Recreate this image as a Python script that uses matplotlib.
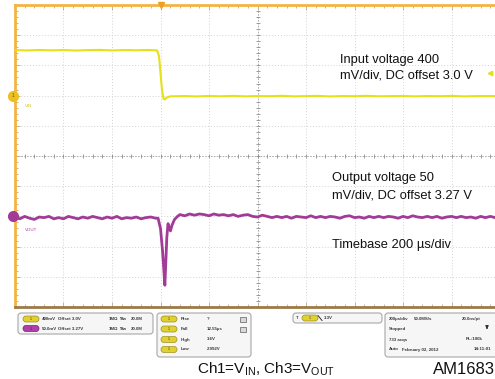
import numpy as np
import matplotlib
matplotlib.use("Agg")
import matplotlib.pyplot as plt
from matplotlib.patches import FancyBboxPatch, Rectangle

plt.rcParams['font.family'] = ['Liberation Sans', 'DejaVu Sans']
plt.rcParams['mathtext.fontset'] = 'custom'
plt.rcParams['mathtext.rm'] = 'Liberation Sans'
plt.rcParams['mathtext.it'] = 'Liberation Sans:italic'

# ---- scope settings ----
time_per_div_us = 200
trigger_div_from_left = 3
ch1_scale_v, ch1_offset_v, ch1_pos_div = 0.4, 3.0, 2.0
ch3_scale_v, ch3_offset_v, ch3_pos_div = 0.05, 3.27, -2.0
trigger_level_v = 3.3

# ---- Ch1: input voltage (V) ----
vin_t_us = [-600, -550, -500, -450, -400, -350, -300, -250, -200, -150, -100, -50,
            -14, -6, 0, 6, 12, 18, 26, 40,
            100, 150, 200, 250, 300, 350, 400, 450, 500, 550,
            600, 650, 700, 750, 800, 850, 900, 950, 1000, 1050,
            1100, 1150, 1200, 1250, 1300, 1350, 1400]
vin_v = [3.602, 3.598, 3.604, 3.599, 3.603, 3.597, 3.602, 3.605, 3.598, 3.603, 3.600, 3.604,
         3.598, 3.52, 3.30, 3.08, 2.96, 2.95, 2.975, 2.990,
         2.994, 2.989, 2.995, 2.991, 2.996, 2.990, 2.994, 2.992, 2.997, 2.990,
         2.993, 2.996, 2.989, 2.994, 2.992, 2.997, 2.991, 2.993, 2.995, 2.990,
         2.994, 2.992, 2.996, 2.990, 2.993, 2.995, 2.992]

# ---- Ch3: output voltage, deviation from 3.27 V (mV) ----
vout_pre_t_us = np.arange(-600, -19, 20)
vout_pre_mv = [-2, -4, 0, -3, -5, -1, -2, 0, -4, -2,
               -4, 0, -2, -4, -1, -3, 0, -2, -4, -1,
               -3, 0, -4, -2, -3, -1, -4, -2, -1, -3]
vout_dip_t_us = [-10, 0, 8, 14, 18, 22, 26, 31, 36, 41, 48, 58, 70]
vout_dip_mv = [-3, -20, -55, -90, -114, -75, -35, -12, -18, -24, -14, -5, 0]
vout_post_t_us = np.arange(80, 1401, 20)
vout_post_mv = [3, 1, 4, 2, 4, 3, 1, 4, 2, 3,
                1, 3, 0, 2, 3, 0, -1, 2, 0, -2,
                0, -2, 0, -3, 0, -1, -2, 1, -2, 0,
                -2, 0, -1, -3, 0, 1, -2, -1, -3, 0,
                -2, 0, -2, 0, -1, -3, 0, -2, 1, -1,
                -2, 0, -2, 0, -3, -1, 0, -2, 0, -2,
                -1, -3, 0, -2, 0, -2, -1]

vout_t_us = np.concatenate([vout_pre_t_us, vout_dip_t_us, vout_post_t_us])
vout_v = ch3_offset_v + np.concatenate([vout_pre_mv, vout_dip_mv, vout_post_mv]) / 1000.0

YELLOW = '#e6e018'
PURPLE = '#a23a98'
ORANGE = '#f2b445'
TXT = '#3a3a3a'


def ch1_div(v):
    return ch1_pos_div + (np.asarray(v) - ch1_offset_v) / ch1_scale_v


def ch3_div(v):
    return ch3_pos_div + (np.asarray(v) - ch3_offset_v) / ch3_scale_v


W, H = 495, 379
fig = plt.figure(figsize=(W / 100, H / 100), dpi=100)
fig.patch.set_facecolor('white')

# graticule area (right edge runs past the figure)
L, R, T, B = 15, 500, 5, 307
ax = fig.add_axes([L / W, 1 - B / H, (R - L) / W, (B - T) / H])
t0 = -trigger_div_from_left * time_per_div_us
t1 = t0 + 10 * time_per_div_us
ax.set_xlim(t0, t1)
ax.set_ylim(-5, 5)
ax.set_facecolor('white')

# dotted division grid
for k in range(1, 10):
    t = t0 + k * time_per_div_us
    if k != 5:
        ax.axvline(t, color='#d2d2d2', lw=0.7, ls=(0, (1, 2)), zorder=0)
for y in range(-4, 5):
    if y != 0:
        ax.axhline(y, color='#d2d2d2', lw=0.7, ls=(0, (1, 2)), zorder=0)

# centre cross with sub-division ticks
tc = t0 + 5 * time_per_div_us
ax.axvline(tc, color='#a0a0a0', lw=0.6, ls=(0, (2, 1.5)), zorder=0)
ax.axhline(0, color='#a0a0a0', lw=0.6, ls=(0, (2, 1.5)), zorder=0)
sub_t = np.arange(t0, t1 + 1, time_per_div_us / 5)
sub_y = np.arange(-5, 5.001, 0.2)
ax.plot(sub_t, np.zeros_like(sub_t), ls='none', marker='|', ms=3.2, mew=0.6,
        color='#8e8e8e', zorder=0)
ax.plot(np.full_like(sub_y, tc), sub_y, ls='none', marker='_', ms=3.2, mew=0.6,
        color='#8e8e8e', zorder=0)

# border ticks
ax.set_xticks(np.arange(t0, t1 + 1, time_per_div_us))
ax.set_xticks(sub_t, minor=True)
ax.set_yticks(np.arange(-5, 6, 1))
ax.set_yticks(sub_y, minor=True)
ax.tick_params(axis='both', which='both', direction='in', labelbottom=False,
               labelleft=False, top=True, bottom=True, left=True, right=False,
               color='#c0aa88', width=0.6)
ax.tick_params(axis='both', which='major', length=3.5)
ax.tick_params(axis='both', which='minor', length=2)

for side in ('left', 'top'):
    ax.spines[side].set_color(ORANGE)
    ax.spines[side].set_linewidth(2)
ax.spines['bottom'].set_color('#9c7a48')
ax.spines['bottom'].set_linewidth(2)
ax.spines['right'].set_visible(False)

# traces
ax.plot(vin_t_us, ch1_div(vin_v), color=YELLOW, lw=1.5, zorder=3,
        solid_joinstyle='round')
ax.plot(vout_t_us, ch3_div(vout_v), color=PURPLE, lw=2.0, zorder=3,
        solid_joinstyle='round')

# channel, trigger position and trigger level markers
ax.plot([t0 - 10], [ch1_pos_div], marker='o', ms=7, color='#ecc020',
        clip_on=False, zorder=5)
ax.text(t0 - 10, ch1_pos_div, '1', fontsize=3.5, color='#6a5a00',
        ha='center', va='center', zorder=6, clip_on=False)
ax.plot([t0 - 10], [ch3_pos_div], marker='o', ms=7, color=PURPLE,
        clip_on=False, zorder=5)
ax.plot([0], [5], marker='v', ms=5, color='#f0a020', clip_on=False, zorder=5)
ax.plot([t1 - 40], [ch1_div(trigger_level_v)], marker='<', ms=3.2,
        color=YELLOW, clip_on=False, zorder=5)

ax.text(t0 + 40, ch1_pos_div - 0.35, 'VIN', fontsize=3.2, color='#c8c020',
        ha='left', va='center', zorder=4)
ax.text(t0 + 40, ch3_pos_div - 0.45, 'VOUT', fontsize=3.2, color=PURPLE,
        ha='left', va='center', zorder=4)

# ---- annotations and readout panel in pixel coordinates ----
ov = fig.add_axes([0, 0, 1, 1], zorder=10)
ov.set_xlim(0, W)
ov.set_ylim(H, 0)
ov.set_axis_off()

ANN = 9.3
ov.text(340, 60, 'Input voltage 400', fontsize=ANN, va='center', ha='left', color='#111111')
ov.text(340, 76, 'mV/div, DC offset 3.0 V', fontsize=ANN, va='center', ha='left', color='#111111')
ov.text(332, 178, 'Output voltage 50', fontsize=ANN, va='center', ha='left', color='#111111')
ov.text(332, 195, 'mV/div, DC offset 3.27 V', fontsize=ANN, va='center', ha='left', color='#111111')
ov.text(332, 245, 'Timebase 200 \u00b5s/div', fontsize=ANN, va='center', ha='left', color='#111111')


def box(x0, y0, x1, y1):
    ov.add_patch(FancyBboxPatch((x0, y0), x1 - x0, y1 - y0,
                                boxstyle='round,pad=0,rounding_size=3',
                                fc='#f6f6f6', ec='#a8a8a8', lw=0.8))


def badge(x, y, color, edge, label):
    ov.add_patch(FancyBboxPatch((x, y - 3), 16, 6,
                                boxstyle='round,pad=0,rounding_size=3',
                                fc=color, ec=edge, lw=0.5))
    ov.text(x + 8, y, label, fontsize=2.6, ha='center', va='center', color='#333333')


def small(x, y, s, size=3.2):
    ov.text(x, y, s, fontsize=size, ha='left', va='center', color=TXT, weight='bold')


# vertical settings
box(18, 313, 153, 334)
badge(23, 319, '#e0d030', '#a09020', '1')
small(42, 319, '400mV')
small(58, 319, 'Offset 3.0V')
small(109, 319, '1M\u03a9')
small(119, 319, '\u0181w')
small(131, 319, '20.0M')
badge(23, 328.5, '#b040a8', '#702070', '3')
small(42, 328.5, '50.0mV')
small(58, 328.5, 'Offset 3.27V')
small(109, 328.5, '1M\u03a9')
small(119, 328.5, '\u0181w')
small(131, 328.5, '20.0M')

# measurements
meas_names = ['Rise', 'Fall', 'High', 'Low']
meas_values = ['?', '12.55\u00b5s', '3.6V', '2.992V']
meas_rows = [319, 329, 339.5, 349.5]
box(157, 313, 251, 357)
for name, val, yy in zip(meas_names, meas_values, meas_rows):
    badge(161, yy, '#e0d030', '#a09020', '1')
    small(181, yy, name)
    small(207, yy, val)
for yy in meas_rows[:2]:
    ov.add_patch(Rectangle((240, yy - 2.5), 6, 5, fc='#d8d8d8', ec='#606060', lw=0.5))

# trigger
box(293, 313, 382, 323)
small(296, 318, 'T', 3.0)
badge(302, 318, '#e0d030', '#a09020', '1')
ov.plot([318, 322], [315.5, 320.5], color='#333333', lw=0.7)
small(324, 318, '3.3V')

# acquisition
box(385, 313, 510, 357)
small(389, 319, '200\u00b5s/div')
small(414, 319, '50.0MS/s')
small(462, 319, '20.0ns/pt')
small(389, 329, 'Stopped')
ov.annotate('', xy=(487, 332), xytext=(487, 325),
            arrowprops=dict(arrowstyle='-|>', color='#333333', lw=0.9,
                            mutation_scale=4))
small(389, 339.5, '733 acqs')
small(466, 339.5, 'RL:100k')
small(389, 349.5, 'Auto')
small(402, 349.5, 'February 02, 2012')
small(474, 349.5, '14:11:01')

# caption
ov.text(197, 369, r'Ch1=V$_{\mathrm{IN}}$, Ch3=V$_{\mathrm{OUT}}$', fontsize=11,
        ha='left', va='center', color='#111111')
ov.text(433, 369, 'AM1683', fontsize=12, ha='left', va='center', color='#111111')

fig.savefig('out.png', dpi=100)
